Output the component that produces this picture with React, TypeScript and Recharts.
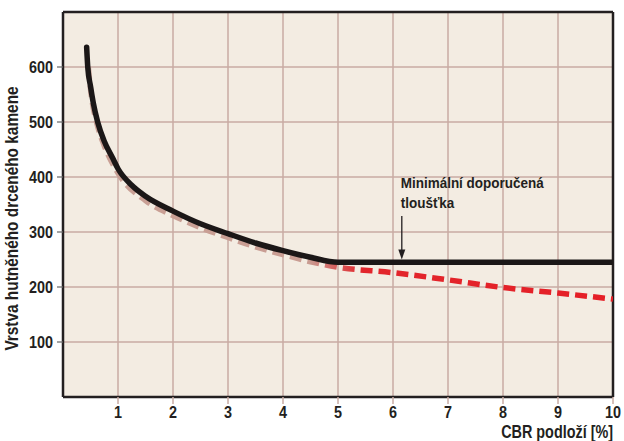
import { LineChart, Line, XAxis, YAxis, CartesianGrid, ReferenceLine, ReferenceDot } from "recharts";

// vrstva hutněného drceného kamene vs. CBR podloží
const blackX = [0.43, 0.45, 0.5, 0.55, 0.63, 0.75, 0.9, 1, 1.25, 1.5, 2, 2.5, 3, 3.5, 4, 4.5, 5, 6, 7, 8, 9, 10];
const blackY = [636, 600, 565, 535, 500, 465, 435, 415, 385, 365, 338, 315, 297, 280, 266, 254, 245, 245, 245, 245, 245, 245];

const redX = [0.46, 0.5, 0.63, 0.75, 1, 1.5, 2, 2.5, 3, 3.5, 4, 4.5, 5, 6, 7, 8, 9, 10];
const redY = [600, 560, 492, 457, 407, 357, 330, 308, 290, 273, 259, 246, 236, 226, 213, 199, 189, 178];

const xTicks = [1, 2, 3, 4, 5, 6, 7, 8, 9, 10];
const yTicks = [100, 200, 300, 400, 500, 600];

const blackData = blackX.map((x, i) => ({ x, v: blackY[i] }));
const redData = redX.map((x, i) => ({ x, v: redY[i] }));

const FONT = "'Liberation Sans', Arial, sans-serif";
const GRID = "#c9aba3";
const INK = "#231f20";

// condensed bold text: the narrow face is not installed, so squeeze it
const Squeezed = ({ x, y, size, sx = 0.88, anchor = "start", rotate = 0, children }: any) => (
  <g transform={`translate(${x},${y}) rotate(${rotate}) scale(${sx},1)`}>
    <text x={0} y={0} textAnchor={anchor} fontFamily={FONT} fontWeight="bold" fontSize={size} fill={INK}>
      {children}
    </text>
  </g>
);

const XTick = (props: any) => {
  const { x, y, payload } = props;
  return <Squeezed x={x} y={y + 12} size={16} sx={0.9} anchor="middle">{payload.value}</Squeezed>;
};

const YTick = (props: any) => {
  const { x, y, payload } = props;
  return <Squeezed x={x} y={y + 5.5} size={16} sx={0.9} anchor="end">{payload.value}</Squeezed>;
};

const XTitle = (props: any) => {
  const { viewBox } = props;
  return <Squeezed x={viewBox.x + viewBox.width} y={438} size={18} sx={0.8} anchor="end">CBR podloží [%]</Squeezed>;
};

const YTitle = (props: any) => {
  const { viewBox } = props;
  return (
    <Squeezed x={18} y={viewBox.y + viewBox.height / 2 + 14} size={17.5} sx={0.88} anchor="middle" rotate={-90}>
      Vrstva hutněného drceného kamene
    </Squeezed>
  );
};

const Arrow = (props: any) => {
  const { x1, y1, x2, y2 } = props;
  return (
    <g>
      <line x1={x1} y1={y1} x2={x2} y2={y2 - 8} stroke={INK} strokeWidth={1.3} />
      <polygon points={`${x2 - 3.5},${y2 - 10} ${x2 + 3.5},${y2 - 10} ${x2},${y2}`} fill={INK} />
    </g>
  );
};

const Note = (props: any) => {
  const { viewBox } = props;
  return (
    <g>
      <Squeezed x={viewBox.x} y={viewBox.y} size={15} sx={0.9}>Minimální doporučená</Squeezed>
      <Squeezed x={viewBox.x} y={viewBox.y + 20} size={15} sx={0.9}>tloušťka</Squeezed>
    </g>
  );
};

export default function App() {
  return (
    <div style={{ position: "absolute", left: 0, top: 0, background: "#fff" }}>
      <LineChart width={624} height={441} margin={{ top: 12, right: 11, bottom: 0, left: 0 }}>
        <defs>
          <linearGradient id="redFade" x1="0" y1="0" x2="1" y2="0">
            <stop offset="0%" stopColor="#c9a196" />
            <stop offset="42%" stopColor="#c99d93" />
            <stop offset="52%" stopColor="#e2262c" />
            <stop offset="100%" stopColor="#e51f27" />
          </linearGradient>
        </defs>
        <CartesianGrid fill="#f3ece2" stroke={GRID} strokeWidth={1.5} horizontalValues={yTicks} verticalValues={[1, 2, 3, 4, 5, 6, 7, 8, 9]} />
        <XAxis
          type="number"
          dataKey="x"
          domain={[0, 10]}
          ticks={xTicks}
          height={44}
          allowDataOverflow
          axisLine={{ stroke: INK, strokeWidth: 2.5 }}
          tickLine={{ stroke: GRID, strokeWidth: 1.5 }}
          tickSize={7}
          tickMargin={2}
          tick={<XTick />}
          label={<XTitle />}
        />
        <YAxis
          type="number"
          domain={[0, 700]}
          ticks={yTicks}
          width={63}
          axisLine={{ stroke: INK, strokeWidth: 2.5 }}
          tickLine={{ stroke: "#666", strokeWidth: 1.2 }}
          tickSize={6}
          tickMargin={4}
          tick={<YTick />}
          label={<YTitle />}
        />
        <ReferenceLine y={700} stroke={INK} strokeWidth={2.5} />
        <ReferenceLine x={10} stroke={INK} strokeWidth={2.5} />
        <Line data={redData} dataKey="v" type="monotone" stroke="url(#redFade)" strokeWidth={5.5} strokeDasharray="12 6" dot={false} isAnimationActive={false} />
        <Line data={blackData} dataKey="v" type="monotone" stroke="#1b1717" strokeWidth={5.5} strokeLinecap="round" dot={false} isAnimationActive={false} />
        <ReferenceLine segment={[{ x: 6.16, y: 329 }, { x: 6.16, y: 250 }]} shape={Arrow} />
        <ReferenceDot x={6.14} y={380} r={0} fill="none" stroke="none" label={<Note />} />
      </LineChart>
    </div>
  );
}
